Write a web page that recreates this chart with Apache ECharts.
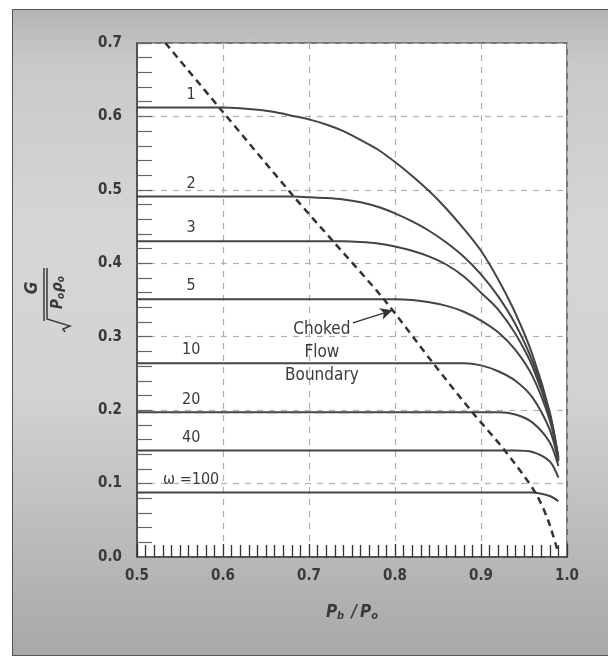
<!DOCTYPE html>
<html>
<head>
<meta charset="utf-8">
<script src="https://cdn.jsdelivr.net/npm/echarts@6/dist/echarts.min.js"></script>
<style>
  body { margin: 0; background: #fff; }
  #frame {
    position: absolute; left: 12px; top: 9px; width: 600px; height: 645px;
    border: 1px solid #555;
    background: linear-gradient(180deg, #b4b4b4 0%, #c9c9c9 8%, #d6d6d6 35%, #d2d2d2 60%, #bdbdbd 80%, #a8a8a8 100%);
  }
  #chart { position: absolute; left: 0; top: 0; width: 608px; height: 660px; }
</style>
</head>
<body>
<div id="frame"></div>
<div id="chart"></div>
<script>
// pressure ratio Pb/Po (x) shared by all curves
const ratio = [0.50, 0.52, 0.54, 0.56, 0.58, 0.60, 0.62, 0.64, 0.66, 0.68, 0.70, 0.72, 0.74,
               0.76, 0.78, 0.80, 0.82, 0.84, 0.86, 0.88, 0.90, 0.92, 0.94, 0.96, 0.98, 0.99];

// G / sqrt(Po*rho_o) for each omega
const w1   = [0.612, 0.612, 0.612, 0.612, 0.612, 0.612, 0.611, 0.609, 0.606, 0.601, 0.596, 0.589, 0.580,
              0.568, 0.555, 0.538, 0.519, 0.498, 0.474, 0.447, 0.417, 0.378, 0.332, 0.275, 0.197, 0.136];
const w2   = [0.491, 0.491, 0.491, 0.491, 0.491, 0.491, 0.491, 0.491, 0.491, 0.491, 0.490, 0.489, 0.487,
              0.483, 0.477, 0.468, 0.457, 0.444, 0.428, 0.409, 0.385, 0.355, 0.317, 0.266, 0.194, 0.134];
const w3   = [0.430, 0.430, 0.430, 0.430, 0.430, 0.430, 0.430, 0.430, 0.430, 0.430, 0.430, 0.430, 0.430,
              0.429, 0.427, 0.423, 0.417, 0.409, 0.398, 0.382, 0.360, 0.337, 0.304, 0.259, 0.191, 0.133];
const w5   = [0.351, 0.351, 0.351, 0.351, 0.351, 0.351, 0.351, 0.351, 0.351, 0.351, 0.351, 0.351, 0.351,
              0.351, 0.351, 0.351, 0.350, 0.347, 0.342, 0.334, 0.322, 0.306, 0.282, 0.246, 0.186, 0.132];
const w10  = [0.264, 0.264, 0.264, 0.264, 0.264, 0.264, 0.264, 0.264, 0.264, 0.264, 0.264, 0.264, 0.264,
              0.264, 0.264, 0.264, 0.264, 0.264, 0.264, 0.264, 0.261, 0.253, 0.240, 0.217, 0.173, 0.130];
const w20  = [0.197, 0.197, 0.197, 0.197, 0.197, 0.197, 0.197, 0.197, 0.197, 0.197, 0.197, 0.197, 0.197,
              0.197, 0.197, 0.197, 0.197, 0.197, 0.197, 0.197, 0.197, 0.197, 0.194, 0.183, 0.156, 0.124];
const w40  = [0.145, 0.145, 0.145, 0.145, 0.145, 0.145, 0.145, 0.145, 0.145, 0.145, 0.145, 0.145, 0.145,
              0.145, 0.145, 0.145, 0.145, 0.145, 0.145, 0.145, 0.145, 0.145, 0.145, 0.143, 0.130, 0.108];
const w100 = [0.088, 0.088, 0.088, 0.088, 0.088, 0.088, 0.088, 0.088, 0.088, 0.088, 0.088, 0.088, 0.088,
              0.088, 0.088, 0.088, 0.088, 0.088, 0.088, 0.088, 0.088, 0.088, 0.088, 0.088, 0.083, 0.076];

const curves = [w1, w2, w3, w5, w10, w20, w40, w100];
const curveNames = ['1', '2', '3', '5', '10', '20', '40', 'ω =100'];

// choked flow boundary (dashed)
const boundaryX = [0.533, 0.595, 0.683, 0.728, 0.787, 0.845, 0.890, 0.927, 0.963, 0.978, 0.990];
const boundaryY = [0.700, 0.613, 0.490, 0.430, 0.351, 0.263, 0.197, 0.146, 0.088, 0.050, 0.005];

const xTicks = ['0.5', '0.6', '0.7', '0.8', '0.9', '1.0'];
const yTicks = ['0.0', '0.1', '0.2', '0.3', '0.4', '0.5', '0.6', '0.7'];

const font = '"DejaVu Sans Condensed", "Liberation Sans Narrow", sans-serif';
const ink = '#3a3a3a';

const chart = echarts.init(document.getElementById('chart'));

const series = curves.map((vals, i) => ({
  type: 'line',
  name: curveNames[i],
  data: ratio.map((x, j) => [x, vals[j]]),
  smooth: 0.3,
  showSymbol: false,
  lineStyle: { color: '#444', width: 2 },
  silent: true,
  markPoint: {
    symbol: 'circle', symbolSize: 0,
    data: [{ coord: [0.563, vals[0]] }],
    label: {
      show: true, position: 'top', distance: 5,
      formatter: curveNames[i],
      color: ink, fontFamily: font, fontSize: 16
    }
  }
}));

series.push({
  type: 'line',
  name: 'boundary',
  data: boundaryX.map((x, j) => [x, boundaryY[j]]),
  smooth: 0.3,
  showSymbol: false,
  lineStyle: { color: '#333', width: 2.5, type: [7, 5] },
  silent: true,
  markLine: {
    silent: true,
    symbol: ['none', 'arrow'], symbolSize: [9, 12],
    lineStyle: { color: '#333', width: 1.3, type: 'solid' },
    label: { show: false },
    data: [[{ coord: [0.751, 0.319] }, { coord: [0.797, 0.336] }]]
  },
  markPoint: {
    symbol: 'circle', symbolSize: 0,
    data: [{ coord: [0.715, 0.279] }],
    label: {
      show: true, position: 'inside',
      formatter: 'Choked\nFlow\nBoundary',
      lineHeight: 23, align: 'center',
      color: ink, fontFamily: font, fontSize: 17
    }
  }
});

chart.setOption({
  animation: false,
  backgroundColor: 'transparent',
  grid: {
    left: 137, right: 41, top: 43, bottom: 103,
    show: true, backgroundColor: '#fff', borderColor: '#555', borderWidth: 1.5
  },
  xAxis: {
    type: 'value', min: 0.5, max: 1.0, interval: 0.1,
    name: '{i|P}{s|b}{n| /}{i|P}{s|o}',
    nameLocation: 'middle', nameGap: 46,
    nameTextStyle: {
      rich: {
        i: { fontFamily: font, fontStyle: 'italic', fontWeight: 'bold', fontSize: 17, color: ink },
        s: { fontFamily: font, fontStyle: 'italic', fontWeight: 'bold', fontSize: 11, color: ink, padding: [8, 0, 0, 0] },
        n: { fontFamily: font, fontStyle: 'italic', fontWeight: 'bold', fontSize: 17, color: ink, padding: [0, 3, 0, 2] }
      }
    },
    axisLine: { lineStyle: { color: '#444', width: 1.5 } },
    axisTick: { inside: true, length: 13, lineStyle: { color: '#333', width: 1.3 } },
    minorTick: { show: true, splitNumber: 10, length: 12, lineStyle: { color: '#333', width: 1.3 } },
    axisLabel: {
      margin: 12, color: ink, fontFamily: font, fontSize: 15, fontWeight: 'bold',
      formatter: v => xTicks[Math.round((v - 0.5) * 10)]
    },
    splitLine: { show: true, lineStyle: { color: '#b0b0b0', type: [6, 6], width: 1.2 } }
  },
  yAxis: {
    type: 'value', min: 0, max: 0.7, interval: 0.1,
    axisLine: { lineStyle: { color: '#444', width: 1.5 } },
    axisTick: { inside: true, length: 15, lineStyle: { color: '#666', width: 1.2 } },
    minorTick: { show: true, splitNumber: 5, length: 15, lineStyle: { color: '#666', width: 1.2 } },
    axisLabel: {
      margin: 15, color: ink, fontFamily: font, fontSize: 15, fontWeight: 'bold',
      formatter: v => yTicks[Math.round(v * 10)]
    },
    splitLine: { show: true, lineStyle: { color: '#b0b0b0', type: [6, 6], width: 1.2 } }
  },
  graphic: [{
    type: 'group',
    x: 48, y: 295, rotation: Math.PI / 2,
    children: [
      {
        type: 'text', x: 7, y: -15,
        style: { text: 'G', fontFamily: font, fontStyle: 'italic', fontWeight: 'bold', fontSize: 17, fill: ink, align: 'center', verticalAlign: 'middle' }
      },
      { type: 'line', shape: { x1: -26, y1: -4, x2: 27, y2: -4 }, style: { stroke: ink, lineWidth: 1.5 } },
      { type: 'polyline', shape: { points: [[27, -1], [-24, -1], [-31, 22], [-34, 15], [-37, 17]] }, style: { stroke: ink, lineWidth: 1.5, fill: null } },
      {
        type: 'text', x: 3, y: 10,
        style: {
          text: '{i|P}{s|o}{i|ρ}{s|o}', align: 'center', verticalAlign: 'middle',
          rich: {
            i: { fontFamily: font, fontStyle: 'italic', fontWeight: 'bold', fontSize: 15, fill: ink },
            s: { fontFamily: font, fontStyle: 'italic', fontWeight: 'bold', fontSize: 10, fill: ink, padding: [7, 1, 0, 0] }
          }
        }
      }
    ]
  }],
  series: series
});
</script>
</body>
</html>
